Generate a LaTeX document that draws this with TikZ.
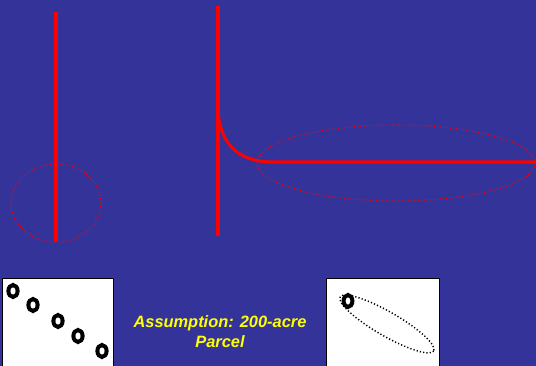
\documentclass[tikz,border=0pt]{standalone}
\usepackage{fontspec}
\setmainfont{Liberation Sans}
\definecolor{slideblue}{HTML}{333399}
\definecolor{slidered}{HTML}{FF0000}
\definecolor{slideyellow}{HTML}{FFFF00}
\tikzset{
  curve/.style={line width=2.3pt,slidered},
  zone/.style={slidered,line width=0.8pt,dash pattern=on 0.8pt off 1.6pt},
  panel/.style={fill=white,draw=black,line width=0.6pt},
  well/.style={draw=black,line width=3pt},
}
\begin{document}
\begin{tikzpicture}[x=0.75pt,y=-0.75pt]
  \fill[slideblue] (0,0) rectangle (536,366);
  \useasboundingbox (0,0) rectangle (536,366);
  % left plot
  \draw[curve] (56,12)--(56,242);
  \draw[zone] (56,203) ellipse[x radius=45,y radius=39];
  % right plot
  \draw[curve] (218,6)--(218,236);
  \draw[curve] (218,113) .. controls (221,142) and (236,162) .. (273,162) -- (536,162);
  \draw[zone] (396,163) ellipse[x radius=139,y radius=38];
  % well panels
  \draw[panel] (2,278) rectangle (113,366);
  \foreach \p in {(13,291),(33,305),(58,321),(78,336),(102,351)}
    \draw[well] \p ellipse[x radius=4.6,y radius=6];
  \draw[panel] (326,278) rectangle (439,366);
  \draw[black,line width=1.1pt,dash pattern=on 0.9pt off 1.6pt,rotate around={-30:(387,324)}]
    (387,324) ellipse[x radius=54,y radius=12];
  \draw[well] (348,301) ellipse[x radius=4.4,y radius=6];
  \node[font=\fontsize{12.3}{15}\selectfont\bfseries\itshape,text=slideyellow,align=center]
    (note) at (220,332) {Assumption: 200-acre\\Parcel};
\end{tikzpicture}
\end{document}
